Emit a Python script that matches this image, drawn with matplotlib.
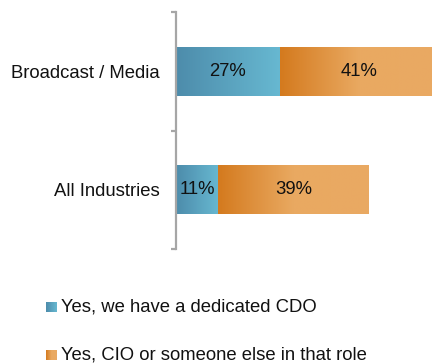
import matplotlib
matplotlib.use('Agg')
import matplotlib.pyplot as plt
import numpy as np
from matplotlib.colors import LinearSegmentedColormap

# --- data ---
categories = ["Broadcast / Media", "All Industries"]
series_names = ["Yes, we have a dedicated CDO", "Yes, CIO or someone else in that role"]
cdo_values = [27, 11]
cio_values = [41, 39]

plt.rcParams['font.family'] = ['Liberation Sans', 'DejaVu Sans']
FONT_SIZE = 13.3

# gradient colour ramps (dark left -> light right)
blue_cmap = LinearSegmentedColormap.from_list('blue_grad', ['#4d8cab', '#67b8d1'])
orange_cmap = LinearSegmentedColormap.from_list('orange_grad', ['#d47a1e', '#e9a961', '#eaa963'])
grad = np.linspace(0, 1, 256).reshape(1, -1)

fig = plt.figure(figsize=(4.32, 3.64), dpi=100)
ax = fig.add_axes([176 / 432, 115 / 364, 256 / 432, 237 / 364])

BAR_H = 0.41
for i, (cat, v1, v2) in enumerate(zip(categories, cdo_values, cio_values)):
    segs = [(0, v1, blue_cmap), (v1, v1 + v2, orange_cmap)]
    for left, right, cmap in segs:
        ax.imshow(grad, cmap=cmap, aspect='auto', interpolation='bilinear',
                  extent=[left, right, i + BAR_H / 2, i - BAR_H / 2], zorder=2)
        ax.text((left + right) / 2, i, f"{right - left}%", ha='center', va='center',
                fontsize=FONT_SIZE, color='#111111', zorder=3)

ax.set_xlim(0, 66.5)
ax.set_ylim(1.5, -0.5)

# axis styling: only a grey left spine with boundary ticks
for s in ['top', 'right', 'bottom']:
    ax.spines[s].set_visible(False)
ax.spines['left'].set_color('#a6a6a6')
ax.spines['left'].set_linewidth(1.6)
ax.set_xticks([])
ax.set_yticks([-0.5, 0.5, 1.5])
ax.set_yticklabels([])
ax.tick_params(axis='y', which='major', length=3.6, width=1.6, color='#a6a6a6', direction='out')
ax.set_yticks(range(len(categories)), minor=True)
ax.set_yticklabels(categories, minor=True, fontsize=FONT_SIZE, color='#111111')
ax.tick_params(axis='y', which='minor', length=0, pad=12)

# legend with gradient swatches
legend_rows = [(series_names[0], blue_cmap, 307), (series_names[1], orange_cmap, 355)]
for name, cmap, ypix in legend_rows:
    sw = fig.add_axes([46 / 432, (364 - ypix - 5) / 364, 11 / 432, 10 / 364])
    sw.imshow(grad, cmap=cmap, aspect='auto', interpolation='bilinear')
    sw.axis('off')
    fig.text(61 / 432, (364 - ypix) / 364, name, ha='left', va='center',
             fontsize=FONT_SIZE, color='#111111')

fig.savefig('out.png', dpi=100)
